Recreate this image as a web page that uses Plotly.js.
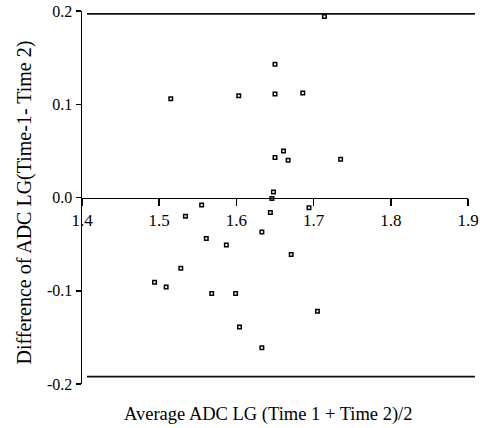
<!DOCTYPE html>
<html>
<head>
<meta charset="utf-8">
<script src="https://cdn.plot.ly/plotly-3.0.1.min.js"></script>
<style>html,body{margin:0;padding:0;background:#fff;}#chart{width:480px;height:428px;}</style>
</head>
<body>
<div id="chart"></div>
<script>
// Average of the two measurements (x) and their difference (y)
const avgADC = [1.515, 1.603, 1.650, 1.650, 1.714, 1.686, 1.661, 1.650, 1.667, 1.735,
                1.648, 1.646, 1.644, 1.694, 1.633, 1.671, 1.555, 1.534, 1.561, 1.587,
                1.528, 1.494, 1.509, 1.568, 1.599, 1.604, 1.633, 1.705];
const diffADC = [0.106, 0.109, 0.143, 0.111, 0.194, 0.112, 0.050, 0.043, 0.040, 0.041,
                 0.006, -0.001, -0.016, -0.011, -0.037, -0.061, -0.008, -0.020, -0.044, -0.051,
                 -0.076, -0.091, -0.096, -0.103, -0.103, -0.139, -0.161, -0.122];
const upperLimit = 0.197;
const lowerLimit = -0.192;
const xTicks = [1.4, 1.5, 1.6, 1.7, 1.8, 1.9];
const xTickText = ["1.4", "1.5", "1.6", "1.7", "1.8", "1.9"];
const yTicks = [-0.2, -0.1, 0.0, 0.1, 0.2];
const yTickText = ["-0.2", "-0.1", "0.0", "0.1", "0.2"];
const xTitle = "Average ADC LG (Time 1 + Time 2)/2";
const yTitle = "Difference of ADC LG(Time-1- Time 2)";

const font = "Liberation Serif, Times New Roman, serif";
const yRange = [-0.2, 0.2];

const trace = {
  x: avgADC, y: diffADC, type: 'scatter', mode: 'markers',
  marker: {symbol: 'square-open', size: 3.5, color: '#000', line: {width: 1.5, color: '#000'}},
  hoverinfo: 'none', showlegend: false, cliponaxis: false
};

const layout = {
  width: 480, height: 428,
  margin: {l: 82, r: 12, t: 11, b: 44},
  paper_bgcolor: '#fff', plot_bgcolor: '#fff',
  font: {family: font, color: '#000'},
  showlegend: false,
  xaxis: {
    range: [1.4, 1.9], anchor: 'free',
    position: (0 - yRange[0]) / (yRange[1] - yRange[0]),
    tickvals: xTicks, ticktext: xTickText,
    ticks: 'outside', ticklen: 7, tickwidth: 1.5, tickcolor: '#000',
    showline: true, linecolor: '#000', linewidth: 1.5,
    showgrid: false, zeroline: false,
    tickfont: {family: font, size: 17, color: '#000'}
  },
  yaxis: {
    range: yRange,
    tickvals: yTicks, ticktext: yTickText,
    ticks: 'outside', ticklen: 5, tickwidth: 1.5, tickcolor: '#000',
    showline: true, linecolor: '#000', linewidth: 1.5,
    showgrid: false, zeroline: false,
    tickfont: {family: font, size: 16, color: '#000'}
  },
  shapes: [
    {type: 'line', xref: 'paper', yref: 'y', x0: 0.013, x1: 1.018, y0: upperLimit, y1: upperLimit,
     line: {color: '#111', width: 1.8}},
    {type: 'line', xref: 'paper', yref: 'y', x0: 0.013, x1: 1.018, y0: lowerLimit, y1: lowerLimit,
     line: {color: '#111', width: 1.8}}
  ],
  annotations: [
    {text: xTitle, xref: 'paper', yref: 'paper', x: 0.4827, y: -0.083,
     xanchor: 'center', yanchor: 'middle', showarrow: false,
     font: {family: font, size: 18.5, color: '#000'}},
    {text: yTitle, xref: 'paper', yref: 'paper', x: -0.1477, y: 0.4866,
     xanchor: 'center', yanchor: 'middle', textangle: -90, showarrow: false,
     font: {family: font, size: 20, color: '#000'}}
  ]
};

Plotly.newPlot('chart', [trace], layout, {staticPlot: true, displayModeBar: false});
</script>
</body>
</html>
